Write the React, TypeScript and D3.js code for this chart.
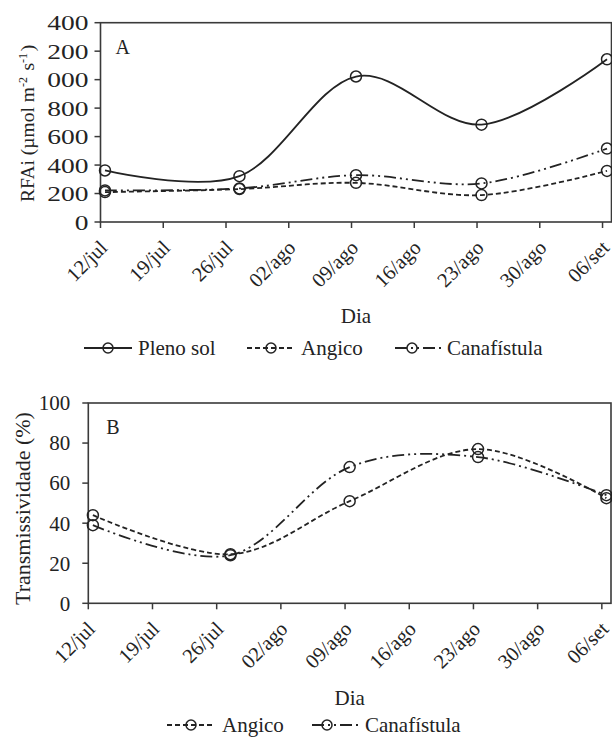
import React from "react";
import * as d3 from "d3";

// ---- data ----
const sampleDates = ["2011-07-12", "2011-07-27", "2011-08-09", "2011-08-23", "2011-09-06"];
const tickDates = ["2011-07-12", "2011-07-19", "2011-07-26", "2011-08-02", "2011-08-09", "2011-08-16", "2011-08-23", "2011-08-30", "2011-09-06"];
const tickLabels = ["12/jul", "19/jul", "26/jul", "02/ago", "09/ago", "16/ago", "23/ago", "30/ago", "06/set"];
const domainDates = ["2011-07-12", "2011-09-07"];

const rfaiPlenoSol = [362, 322, 1022, 684, 1143];
const rfaiAngico = [210, 231, 275, 189, 359];
const rfaiCanafistula = [222, 236, 329, 271, 516];
const rfaiTicks = [0, 200, 400, 600, 800, 1000, 1200, 1400];

const transAngico = [44, 24.5, 51, 77, 52.5];
const transCanafistula = [39, 24, 68, 73, 54];
const transTicks = [0, 20, 40, 60, 80, 100];

// ---- styles ----
const FONT = "Liberation Serif, Times New Roman, Times, serif";
const INK = "#232323";
const STYLE_SOLID = "none";
const STYLE_DASH = "5,3";
const STYLE_DASHDOTDOT = "12,4,2,4,2,4";

const parse = d3.timeParse("%Y-%m-%d");
const noon = (s: string) => d3.timeHour.offset(parse(s) as Date, 12);

type Series = { name: string; values: number[]; dash: string };

function Panel(props: {
  left: number; right: number; top: number; bottom: number;
  yMax: number; yTicks: number[]; series: Series[]; letter: string;
  yTitle: React.ReactNode; yTitleX: number; yTitleY: number; yTitleSize: number;
  clipLabels?: boolean; diaY: number; letterDx: number;
  yLabelSize: number; yLabelGap: number; yLabelStretch: number;
}) {
  const { left, right, top, bottom, yMax, yTicks, series } = props;
  const x = d3.scaleTime().domain(domainDates.map((s) => parse(s) as Date)).range([left, right]);
  const y = d3.scaleLinear().domain([0, yMax]).range([bottom, top]);
  const line = d3.line<[Date, number]>()
    .x((d) => x(d[0]))
    .y((d) => y(d[1]))
    .curve(d3.curveCardinal.tension(0));
  const xs = sampleDates.map(noon);
  const clipId = "clip" + props.letter;
  return (
    <g>
      {props.clipLabels && (
        <defs>
          <clipPath id={clipId}>
            <rect x={47} y={0} width={600} height={737} />
          </clipPath>
        </defs>
      )}
      {/* frame */}
      <rect x={left} y={top} width={right - left} height={bottom - top} fill="none" stroke="#3a3a3a" strokeWidth={1.6} />
      {/* y ticks */}
      {yTicks.map((t) => (
        <line key={"l" + t} x1={left - 6} x2={left} y1={y(t)} y2={y(t)} stroke="#3a3a3a" strokeWidth={1.5} />
      ))}
      <g clipPath={props.clipLabels ? `url(#${clipId})` : undefined}>
        {yTicks.map((t) => (
          <text key={t} transform={`translate(${left - props.yLabelGap},${y(t)}) scale(${props.yLabelStretch},1)`} dy="0.35em" textAnchor="end" fontSize={props.yLabelSize} fontFamily={FONT} fill={INK}>{t}</text>
        ))}
      </g>
      {/* x ticks */}
      {tickDates.map((s, i) => {
        const tx = x(parse(s) as Date);
        return (
          <g key={s}>
            <line x1={tx} x2={tx} y1={bottom} y2={bottom + 6} stroke="#3a3a3a" strokeWidth={1.5} />
            <text transform={`translate(${tx + 8},${bottom + 27}) rotate(-45)`} textAnchor="end" fontSize={20.5} fontFamily={FONT} fill={INK}>{tickLabels[i]}</text>
          </g>
        );
      })}
      <text x={(left + right) / 2} y={props.diaY} textAnchor="middle" fontSize={21} fontFamily={FONT} fill={INK}>Dia</text>
      <text x={left + props.letterDx} y={top + 31} fontSize={20} fontFamily={FONT} fill={INK}>{props.letter}</text>
      <text transform={`translate(${props.yTitleX},${props.yTitleY}) rotate(-90)`} textAnchor="start" fontSize={props.yTitleSize} fontFamily={FONT} fill={INK}>{props.yTitle}</text>
      {/* series */}
      {series.map((s) => {
        const pts = xs.map((d, i) => [d, s.values[i]] as [Date, number]);
        return (
          <g key={s.name}>
            <path d={line(pts) || ""} fill="none" stroke={INK} strokeWidth={1.8} strokeDasharray={s.dash} />
            {pts.map((p, i) => (
              <circle key={i} cx={x(p[0])} cy={y(p[1])} r={5.5} fill="none" stroke={INK} strokeWidth={1.5} />
            ))}
          </g>
        );
      })}
    </g>
  );
}

function LegendItem(props: { x: number; y: number; dash: string; label: string; textX: number; w: number; cxOff: number }) {
  const { x, y, dash, label, textX, w, cxOff } = props;
  return (
    <g>
      <line x1={x} x2={x + w} y1={y} y2={y} stroke={INK} strokeWidth={1.8} strokeDasharray={dash} />
      <circle cx={x + cxOff} cy={y} r={5} fill="none" stroke={INK} strokeWidth={1.5} />
      <text x={textX} y={y} dy="0.33em" fontSize={21} fontFamily={FONT} fill={INK}>{label}</text>
    </g>
  );
}

export default function App() {
  const sup = (t: string) => (
    <>
      <tspan dy={-7} fontSize={12}>{t}</tspan>
      <tspan dy={7}>{"\u200A"}</tspan>
    </>
  );
  return (
    <svg width={612} height={737} style={{ position: "absolute", left: 0, top: 0, background: "#fff" }}>
      <Panel
        left={100.5} right={611.5} top={22.7} bottom={222}
        yMax={1400} yTicks={rfaiTicks} letter="A" letterDx={15}
        clipLabels diaY={323}
        yLabelSize={22} yLabelGap={12} yLabelStretch={1.25}
        yTitleX={34} yTitleY={202} yTitleSize={19.5}
        yTitle={<>RFAi (µmol m{sup("-2")} s{sup("-1")})</>}
        series={[
          { name: "Pleno sol", values: rfaiPlenoSol, dash: STYLE_SOLID },
          { name: "Angico", values: rfaiAngico, dash: STYLE_DASH },
          { name: "Canafístula", values: rfaiCanafistula, dash: STYLE_DASHDOTDOT },
        ]}
      />
      <LegendItem x={84} y={348} w={48} cxOff={24} dash={STYLE_SOLID} label="Pleno sol" textX={138} />
      <LegendItem x={247} y={348} w={48} cxOff={24} dash={STYLE_DASH} label="Angico" textX={301} />
      <LegendItem x={395} y={348} w={48} cxOff={17} dash={STYLE_DASHDOTDOT} label="Canafístula" textX={447} />

      <Panel
        left={88.3} right={611} top={403} bottom={603.3}
        yMax={100} yTicks={transTicks} letter="B" letterDx={18}
        diaY={705}
        yLabelSize={21} yLabelGap={18} yLabelStretch={1}
        yTitleX={30} yTitleY={605} yTitleSize={22}
        yTitle={<>Transmissividade (%)</>}
        series={[
          { name: "Angico", values: transAngico, dash: STYLE_DASH },
          { name: "Canafístula", values: transCanafistula, dash: STYLE_DASHDOTDOT },
        ]}
      />
      <LegendItem x={167} y={725} w={48} cxOff={24} dash={STYLE_DASH} label="Angico" textX={222} />
      <LegendItem x={312} y={725} w={48} cxOff={15} dash={STYLE_DASHDOTDOT} label="Canafístula" textX={365} />
    </svg>
  );
}
